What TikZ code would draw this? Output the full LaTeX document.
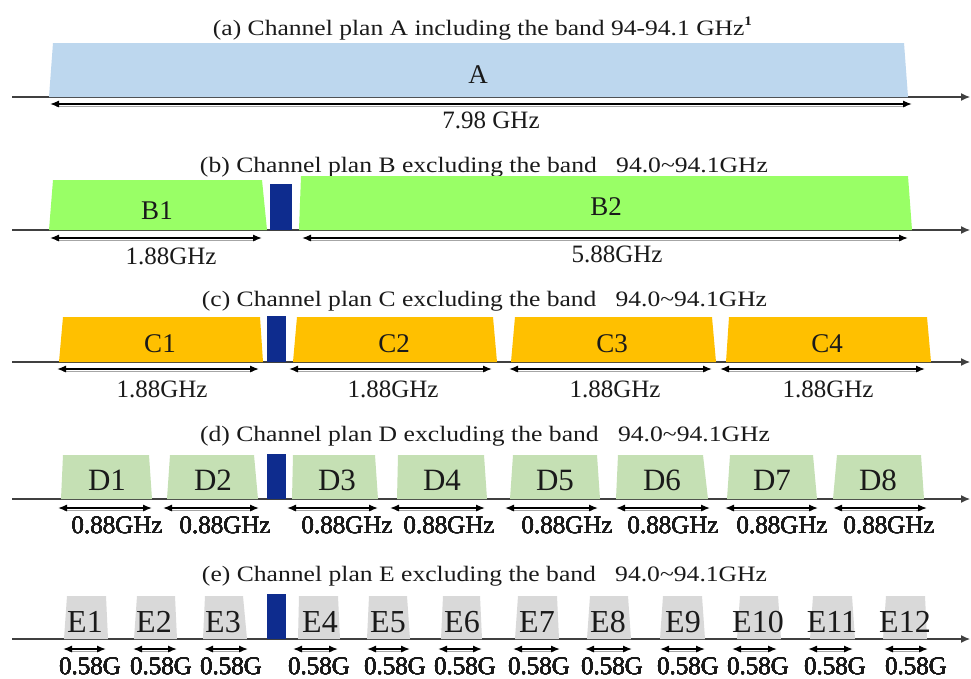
\documentclass[tikz,border=0pt]{standalone}
\usepackage{fontspec}
\setmainfont{Liberation Serif}
\usepackage{graphicx}
\usetikzlibrary{arrows.meta}
\definecolor{cA}{HTML}{BDD7EE}
\definecolor{cB}{HTML}{99FF66}
\definecolor{cC}{HTML}{FFC000}
\definecolor{cD}{HTML}{C5E0B4}
\definecolor{cE}{HTML}{D9D9D9}
\definecolor{cX}{HTML}{0E2C8E}
\definecolor{axisgray}{HTML}{404040}
\definecolor{txt}{HTML}{1A1A1A}
% #1 colour, #2 bottom-left x, #3 top-left x, #4 top-right x, #5 bottom-right x, #6 top y, #7 bottom y
\newcommand\chan[7]{\fill[#1] (#2,#7) -- (#3,#6) -- (#4,#6) -- (#5,#7) -- cycle;}
\newcommand\dimarr[3]{\draw[dimshadow] ([xshift=6pt]#1,#3+2.6) -- ([xshift=-6pt]#2,#3+2.6);\draw[dimline] (#1,#3) -- (#2,#3);}
\newcommand\axln[1]{\draw[axisline] (12,#1) -- (970,#1);}
\tikzset{
  dimline/.style={line width=1.3pt, draw=black, {Latex[length=9pt,width=7pt]}-{Latex[length=9pt,width=7pt]}},
  dimshadow/.style={line width=0.9pt, draw=black!35},
  axisline/.style={line width=1.2pt, draw=axisgray, -{Latex[length=9pt,width=8pt]}},
  ttl/.style={anchor=base, inner sep=0pt, text=txt, font=\fontsize{22}{26}\selectfont},
  chlab/.style={anchor=base, inner sep=0pt, text=txt, font=\fontsize{27}{30}\selectfont},
  chlabbig/.style={anchor=base, inner sep=0pt, text=txt, font=\fontsize{31}{34}\selectfont},
  chlabE/.style={anchor=base, inner sep=0pt, text=txt, font=\fontsize{32}{35}\selectfont},
  dlab/.style={anchor=base, inner sep=0pt, text=txt, font=\fontsize{25}{28}\selectfont},
  dlabE/.style={anchor=base, inner sep=0pt, text=txt, font=\fontsize{25}{28}\selectfont},
}
\begin{document}
\begin{tikzpicture}[x=1pt,y=-1pt]
\useasboundingbox (0,0) rectangle (971,678);
\fill[white] (0,0) rectangle (971,678);

% ---------- (a) ----------
\node[ttl] (ta) at (482.5,35) {\resizebox{539pt}{\height}{(a) Channel plan A including the band 94-94.1 GHz\raisebox{0.42em}{\fontsize{13}{13}\selectfont\bfseries 1}}};
\axln{97}
\chan{cA}{49}{53}{904}{908}{43}{97}
\node[chlab] (lA) at (478,83) {A};
\dimarr{50}{912}{104}
\node[dlab] (dA) at (491,128) {7.98 GHz};

% ---------- (b) ----------
\node[ttl] (tb) at (484,172) {\resizebox{568pt}{\height}{(b) Channel plan B excluding the band\ \ \ 94.0\textasciitilde94.1GHz}};
\axln{230}
\chan{cB}{49}{53}{262}{267}{180}{230}
\fill[cX] (270,184) rectangle (292,230);
\chan{cB}{299}{301}{908}{912}{176}{230}
\node[chlab] (lB1) at (157,219) {B1};
\node[chlab] (lB2) at (606,215) {B2};
\dimarr{50}{262}{238}
\dimarr{302}{908}{238}
\node[dlab] (dB1) at (171,264) {1.88GHz};
\node[dlab] (dB2) at (617,262) {5.88GHz};

% ---------- (c) ----------
\node[ttl] (tc) at (484.5,306) {\resizebox{565pt}{\height}{(c) Channel plan C excluding the band\ \ \ 94.0\textasciitilde94.1GHz}};
\axln{362}
\chan{cC}{59}{63}{260}{263}{317}{362}
\fill[cX] (267,316) rectangle (286,362);
\chan{cC}{293}{297}{493}{497}{317}{362}
\chan{cC}{511}{515}{712}{716}{317}{362}
\chan{cC}{726}{729}{927}{931}{317}{362}
\foreach \x/\n in {160/C1,394/C2,612/C3,827/C4}
  \node[chlab] (l\n) at (\x,352) {\n};
\dimarr{57}{259}{369}
\dimarr{289}{492}{369}
\dimarr{509}{712}{369}
\dimarr{720}{925}{369}
\foreach \x/\n in {162/1,393/2,615/3,828/4}
  \node[dlab] (dC\n) at (\x,397) {1.88GHz};

% ---------- (d) ----------
\node[ttl] (td) at (485,441) {\resizebox{570pt}{\height}{(d) Channel plan D excluding the band\ \ \ 94.0\textasciitilde94.1GHz}};
\axln{499}
\foreach \bl/\tl/\tr/\br in {61/63/149/152,167/170/254/258,292/293/375/378,397/398/484/487,510/513/597/600,616/618/703/708,727/730/813/817,833/837/921/924}
  \chan{cD}{\bl}{\tl}{\tr}{\br}{455}{499}
\fill[cX] (267,454) rectangle (286,499);
\foreach \x/\n in {107/D1,213/D2,337/D3,442/D4,555/D5,662/D6,772/D7,878/D8}
  \node[chlabbig] (l\n) at (\x,490) {\n};
\foreach \a/\b in {58/152,163/259,287/378,390/485,505/598,616/710,725/818,833/927}
  \dimarr{\a}{\b}{508}
\foreach \x/\n in {117/1,225/2,347/3,449/4,567/5,673/6,782/7,889/8}
  \node[dlab] (dD\n) at (\x,533) {0.88GHz};

% ---------- (e) ----------
\node[ttl] (te) at (484.5,581) {\resizebox{565pt}{\height}{(e) Channel plan E excluding the band\ \ \ 94.0\textasciitilde94.1GHz}};
\axln{639}
\foreach \bl/\tl/\tr/\br in {64/67/106/108,134/137/175/177,203/205/243/247,298/299/338/340,367/369/407/410,441/443/480/482,515/518/557/559,587/590/628/631,660/663/702/705,737/740/778/781,810/813/852/855,883/886/925/927}
  \chan{cE}{\bl}{\tl}{\tr}{\br}{596}{639}
\fill[cX] (267,594) rectangle (286,639);
\foreach \x/\n in {85/E1,154/E2,223/E3,320/E4,388/E5,462/E6,537/E7,608/E8,683/E9,758/E10,832/E11,905/E12}
  \node[chlabE] (l\n) at (\x,632) {\n};
\foreach \a/\b in {63/106,133/177,204/248,293/338,367/410,438/482,513/560,585/632,660/705,732/777,808/853,884/928}
  \dimarr{\a}{\b}{649}
\foreach \x/\n in {90/1,161/2,231/3,319/4,395/5,465/6,539/7,612/8,688/9,758/10,835/11,916/12}
  \node[dlabE] (dE\n) at (\x,674) {0.58G};
\end{tikzpicture}
\end{document}
